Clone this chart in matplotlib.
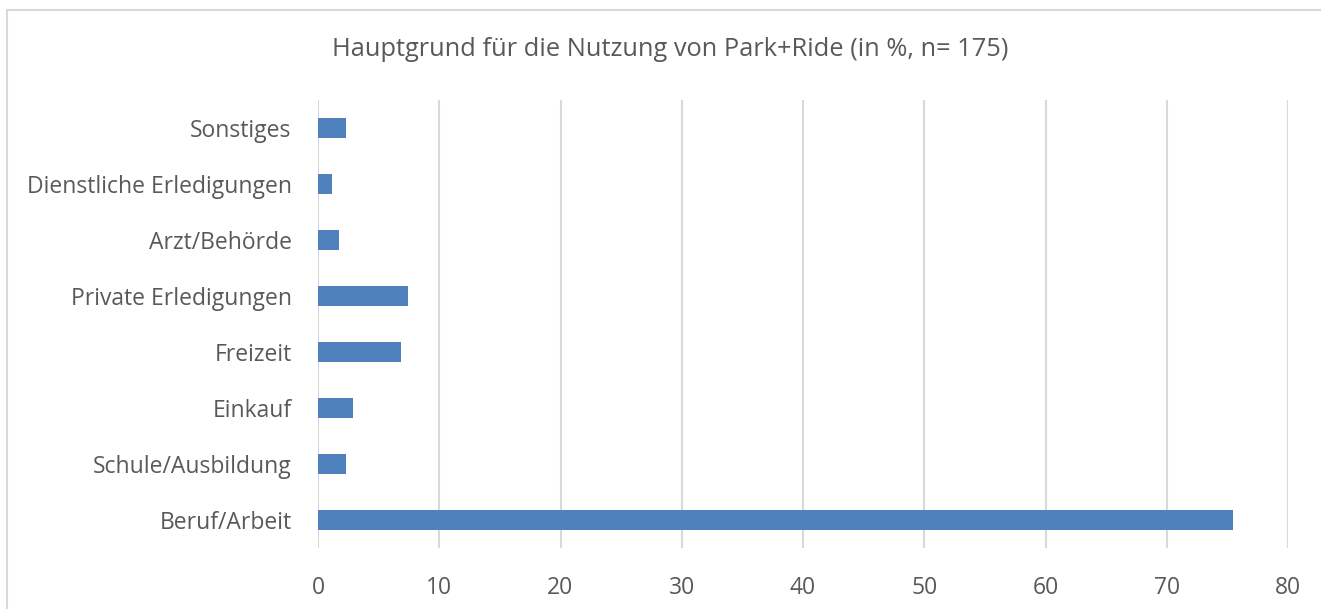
import matplotlib
matplotlib.use("Agg")
import matplotlib.pyplot as plt
from matplotlib.patches import Rectangle

categories = ["Beruf/Arbeit", "Schule/Ausbildung", "Einkauf", "Freizeit",
              "Private Erledigungen", "Arzt/Behörde", "Dienstliche Erledigungen", "Sonstiges"]
values = [75.43, 2.29, 2.86, 6.86, 7.43, 1.71, 1.14, 2.29]
xticks = [0, 10, 20, 30, 40, 50, 60, 70, 80]
title = "Hauptgrund für die Nutzung von Park+Ride (in %, n= 175)"

plt.rcParams['font.family'] = ['Open Sans', 'DejaVu Sans']
W, H = 1321, 609
fig = plt.figure(figsize=(W/100, H/100), dpi=100)
fig.patches.append(Rectangle((7/W, -0.2), 1.2, 1.2 - 10/H, transform=fig.transFigure,
                             fill=False, edgecolor="#d9d9d9", linewidth=1.5))
ax = fig.add_axes([318/W, 1 - 548/H, (1288-318)/W, (548-100)/H])
ax.barh(range(len(categories)), values, height=0.36, color="#4f81bd", zorder=3)
ax.set_xlim(0, 80)
ax.set_ylim(-0.5, len(categories) - 0.5)
ax.set_xticks(xticks)
ax.set_yticks(range(len(categories)))
ax.set_yticklabels(categories)
ax.grid(axis="x", color="#d9d9d9", linewidth=1.5, zorder=0)
for s in ax.spines.values():
    s.set_visible(False)
ax.tick_params(length=0, labelsize=16.5, colors="#595959")
ax.tick_params(axis="x", pad=20)
ax.tick_params(axis="y", pad=19)
fig.text(0.5 + 10/W, 1 - 50/H, title, ha="center", va="center", fontsize=18.3, color="#595959")
fig.savefig("out.png", dpi=100)
